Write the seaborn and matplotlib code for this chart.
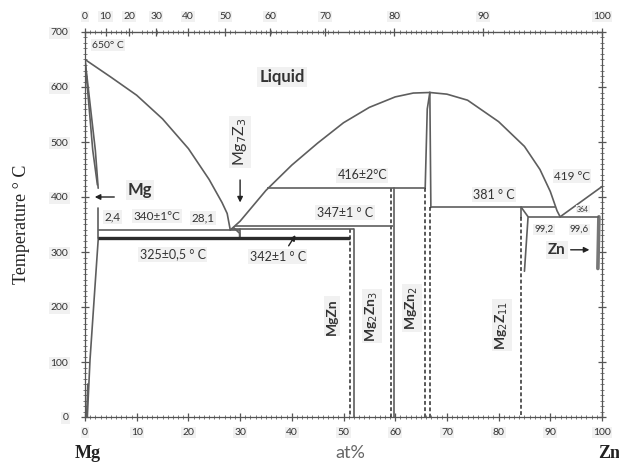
import numpy as np
import pandas as pd
import matplotlib
matplotlib.use("Agg")
import matplotlib.pyplot as plt
from matplotlib.ticker import MultipleLocator
import seaborn as sns

# Molar masses used for the wt.% scale on top
M_ZN, M_MG = 65.38, 24.305

# Liquidus branches (at.% Zn, temperature in °C)
liq_mg_at = [0.0, 5.0, 10.0, 15.0, 20.0, 24.0, 26.5, 27.5, 28.1]
liq_mg_t = [650, 618, 585, 542, 488, 432, 390, 370, 340]
liq_left_at = [28.1, 30.0, 35.0, 40.0, 45.0, 50.0, 55.0, 60.0, 63.5, 66.7]
liq_left_t = [340, 356, 412, 458, 498, 535, 563, 582, 589, 590]
liq_right_at = [66.7, 70.0, 74.0, 80.0, 85.0, 88.0, 90.0, 91.3, 91.9]
liq_right_t = [590, 587, 576, 537, 492, 450, 410, 375, 364]
liq_zn_at = [91.9, 100.0]
liq_zn_t = [364, 419]

# (Mg) solid solution boundaries
sol_a_at = [0.0, 1.5, 2.4]
sol_a_t = [650, 485, 422]
sol_b_at = [0.0, 2.0, 2.55]
sol_b_t = [650, 485, 416]
sol_low_at = [2.55, 2.55]
sol_low_t = [380, 325]
solvus_at = [2.57, 1.93, 0.97, 0.45]
solvus_t = [325, 237, 104, 0]
solvus_b_at = [0.55, 0.30]
solvus_b_t = [60, 0]

# Mg7Zn3 wedge
mg7_at = [28.8, 29.9, 29.9]
mg7_t = [344, 334, 325]
mg7_line_at = [30.0, 30.0]
mg7_line_t = [342, 325]

# MgZn2 congruent-melting phase
mgzn2_l_at = [66.7, 66.2, 65.8]
mgzn2_l_t = [590, 560, 416]
mgzn2_r_at = [66.7, 66.9]
mgzn2_r_t = [590, 381]

# Mg2Zn11 and (Zn) boundaries
mg2zn11_at = [84.4, 85.7, 85.0]
mg2zn11_t = [381, 364, 265]
mg2zn11_edge_at = [84.4, 84.4]
mg2zn11_edge_t = [381, 364]
zn_solvus_at = [99.4, 99.2]
zn_solvus_t = [364, 270]

# Solid compound lines (composition, top temperature)
comp_solid_at = [52.0, 59.8]
comp_solid_top = [342, 416]
# Dashed compound lines (composition, top temperature)
comp_dash_at = [51.3, 59.2, 65.8, 66.8, 84.4]
comp_dash_top = [342, 416, 416, 381, 364]

# Invariant reactions: temperature, start and end composition
inv_t = [340, 342, 347, 416, 381, 364]
inv_x0 = [2.55, 28.3, 29.0, 35.2, 66.9, 85.7]
inv_x1 = [30.0, 52.0, 59.5, 65.8, 90.9, 99.4]
eutectoid_t = 325
eutectoid_x = [2.55, 51.3]

# Top axis ticks (wt.% Zn)
wt_ticks = [0, 10, 20, 30, 40, 50, 60, 70, 80, 90, 100]


def at_to_wt(a):
    a = np.asarray(a, dtype=float)
    return 100 * a * M_ZN / (a * M_ZN + (100 - a) * M_MG)


def wt_to_at(w):
    w = np.asarray(w, dtype=float)
    return 100 * (w / M_ZN) / (w / M_ZN + (100 - w) / M_MG)


def frame(parts):
    rows = []
    for name, xs, ts in parts:
        for x, t in zip(xs, ts):
            rows.append({"at": x, "T": t, "boundary": name})
    return pd.DataFrame(rows)


sns.set_style("white")
plt.rcParams["font.family"] = ["Lato", "DejaVu Sans"]

fig = plt.figure(figsize=(6.19, 4.63), dpi=100)
ax = fig.add_axes([85 / 619, 46 / 463, 517 / 619, 385 / 463])

line_col = "#5e5e5e"
dark_col = "#2b2b2b"
txt_col = "#333333"

solid = frame([
    ("liq_mg", liq_mg_at, liq_mg_t),
    ("liq_left", liq_left_at, liq_left_t),
    ("liq_right", liq_right_at, liq_right_t),
    ("liq_zn", liq_zn_at, liq_zn_t),
    ("sol_a", sol_a_at, sol_a_t),
    ("sol_b", sol_b_at, sol_b_t),
    ("sol_low", sol_low_at, sol_low_t),
    ("solvus", solvus_at, solvus_t),
    ("solvus_b", solvus_b_at, solvus_b_t),
    ("mg7", mg7_at, mg7_t),
    ("mg7_line", mg7_line_at, mg7_line_t),
    ("mgzn2_l", mgzn2_l_at, mgzn2_l_t),
    ("mgzn2_r", mgzn2_r_at, mgzn2_r_t),
    ("mg2zn11", mg2zn11_at, mg2zn11_t),
    ("mg2zn11_edge", mg2zn11_edge_at, mg2zn11_edge_t),
] + [(f"comp{i}", [x, x], [top, 0]) for i, (x, top) in enumerate(zip(comp_solid_at, comp_solid_top))])

dashed = frame([(f"dash{i}", [x, x], [top, 0])
                for i, (x, top) in enumerate(zip(comp_dash_at, comp_dash_top))])

zn_df = frame([("zn_solvus", zn_solvus_at, zn_solvus_t)])

sns.lineplot(data=solid, x="at", y="T", units="boundary", estimator=None,
             sort=False, color=line_col, lw=1.2, ax=ax, legend=False)
sns.lineplot(data=dashed, x="at", y="T", units="boundary", estimator=None,
             sort=False, color=dark_col, lw=1.1, ax=ax, legend=False,
             dashes=False, linestyle=(0, (2.5, 1.6)))
sns.lineplot(data=zn_df, x="at", y="T", units="boundary", estimator=None,
             sort=False, color="#777777", lw=2.6, ax=ax, legend=False)

ax.hlines(inv_t, inv_x0, inv_x1, color=line_col, lw=1.2)
ax.hlines(eutectoid_t, eutectoid_x[0], eutectoid_x[1], color=dark_col, lw=2.4)

# Axes, ticks and scales
ax.set_xlim(0, 100)
ax.set_ylim(0, 700)
ax.set_xlabel("")
ax.set_ylabel("")
ax.xaxis.set_major_locator(MultipleLocator(10))
ax.xaxis.set_minor_locator(MultipleLocator(1))
ax.yaxis.set_major_locator(MultipleLocator(100))
ax.yaxis.set_minor_locator(MultipleLocator(10))
for s in ax.spines.values():
    s.set_visible(True)
    s.set_color("#555555")
    s.set_linewidth(0.9)
ax.tick_params(which="major", direction="inout", length=6, width=0.9,
               color="#555555", labelsize=7.5, labelcolor=txt_col,
               left=True, bottom=True, right=True, top=False)
ax.tick_params(axis="x", which="major", pad=5)
ax.tick_params(axis="y", which="major", pad=9)
ax.tick_params(which="minor", direction="inout", length=3, width=0.6,
               color="#666666", left=True, bottom=True, right=True, top=True)

sec = ax.secondary_xaxis("top", functions=(at_to_wt, wt_to_at))
sec.set_xticks(wt_ticks)
sec.tick_params(direction="inout", length=6, width=0.9, color="#555555",
                labelsize=7.5, labelcolor=txt_col, pad=5)
sec.spines["top"].set_color("#555555")

box = dict(boxstyle="square,pad=0.12", fc="#f1f1f1", ec="none")
for lab in ax.get_xticklabels() + ax.get_yticklabels() + sec.get_xticklabels():
    lab.set_bbox(box)


def label(x, y, s, size=9, weight="normal", rot=0, color=txt_col):
    ax.text(x, y, s, fontsize=size, fontweight=weight, rotation=rot,
            color=color, ha="center", va="center", bbox=box)


label(4.4, 676, "650° C", size=7.5)
label(38.1, 618, "Liquid", size=12, weight="bold")
label(10.6, 413, "Mg", size=12, weight="bold")
label(30.0, 500, "Mg$_7$Z$_3$", size=11.5, rot=90)
label(5.4, 364, "2,4", size=8.5)
label(13.9, 365, "340±1°C", size=8.5)
label(22.8, 362, "28,1", size=8.5)
label(17.0, 296, "325±0,5 ° C", size=9)
label(37.3, 291, "342±1 ° C", size=9)
label(50.3, 371, "347±1 ° C", size=9)
label(53.6, 440, "416±2°C", size=9)
label(79.1, 404, "381 ° C", size=9)
label(94.2, 438, "419 °C", size=8.5)
label(96.3, 378, "364", size=5)
label(88.8, 341, "99,2", size=7)
label(95.6, 341, "99,6", size=7)
label(91.3, 304, "Zn", size=11, weight="bold")
label(47.8, 183, "MgZn", size=10, weight="bold", rot=90)
label(55.5, 183, "Mg$_2$Zn$_3$", size=10, weight="bold", rot=90)
label(63.2, 198, "MgZn$_2$", size=10, weight="bold", rot=90)
label(80.7, 167, "Mg$_2$Z$_{11}$", size=10, weight="bold", rot=90)

arrow = dict(arrowstyle="-|>", color="#222222", lw=1.0, mutation_scale=8)
ax.annotate("", xy=(1.35, 400), xytext=(6.2, 400), arrowprops=arrow)
ax.annotate("", xy=(30.0, 385), xytext=(30.0, 436), arrowprops=arrow)
ax.annotate("", xy=(41.0, 335), xytext=(39.1, 307), arrowprops=arrow)
ax.annotate("", xy=(98.1, 304), xytext=(93.4, 304), arrowprops=arrow)

# Outer labels
serif = ["Liberation Serif", "DejaVu Serif"]
fig.text(22 / 619, 1 - 224 / 463, "Temperature ° C", family=serif,
         fontsize=13, rotation=90, ha="center", va="center", color="#222222")
fig.text(88 / 619, 1 - 453 / 463, "Mg", family=serif, fontsize=13,
         fontweight="bold", ha="center", va="center", color="#222222")
fig.text(609 / 619, 1 - 453 / 463, "Zn", family=serif, fontsize=13,
         fontweight="bold", ha="center", va="center", color="#222222")
fig.text(350 / 619, 1 - 453 / 463, "at%", fontsize=13, ha="center",
         va="center", color="#666666")

fig.savefig("out.png", dpi=100)
